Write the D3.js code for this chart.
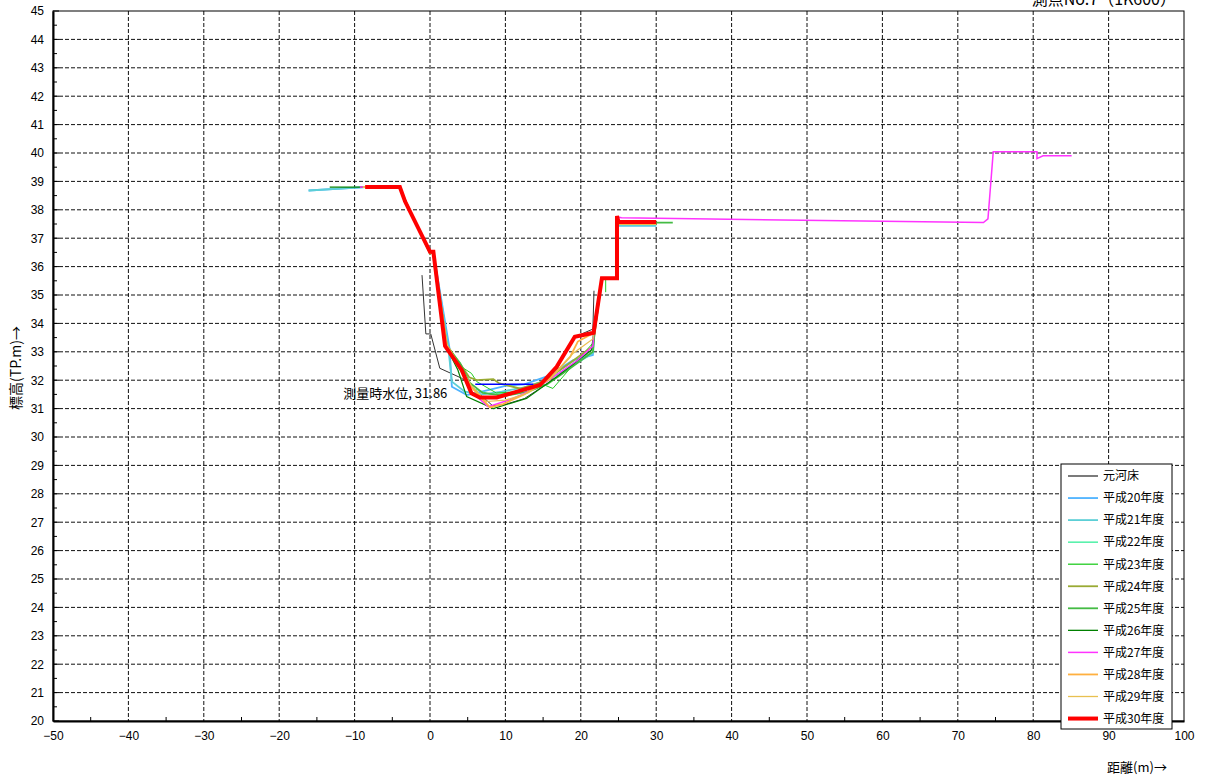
<!DOCTYPE html>
<html>
<head>
<meta charset="utf-8">
<script src="https://cdn.jsdelivr.net/npm/d3@7"></script>
<style>
  html, body { margin: 0; padding: 0; background: #fff; }
  svg { display: block; font-family: "Liberation Sans", "Noto Sans CJK JP", sans-serif; }
</style>
</head>
<body>
<svg id="chart" width="1206" height="778"></svg>
<script>
// ---------- data ----------
const title = "測点No.7（1K600）";
const xTicks = [-50, -40, -30, -20, -10, 0, 10, 20, 30, 40, 50, 60, 70, 80, 90, 100];
const yTicks = [20,21,22,23,24,25,26,27,28,29,30,31,32,33,34,35,36,37,38,39,40,41,42,43,44,45];
const seriesNames = ["元河床","平成20年度","平成21年度","平成22年度","平成23年度","平成24年度","平成25年度","平成26年度","平成27年度","平成28年度","平成29年度","平成30年度"];

const genkasho = [[-1.06,35.7],[-0.55,33.63],[0.1,33.63],[1.3,32.42],[4.2,32.07],[5.2,31.85],[8.3,31.1],[10,31.15],[12.5,31.35],[16,31.95],[19.0,33.5],[21.6,33.8],[21.75,35.15]];
const h20 = [[-16.1,38.68],[-8.6,38.8],[-4.0,38.8],[-3.3,38.3],[0,36.5],[0.45,36.5],[2.6,33.1],[2.9,31.77],[4.9,31.48],[7.7,31.65],[10,31.8],[12.5,31.85],[15.7,32.15],[19.0,32.71],[21.6,32.89],[21.7,33.6],[22.8,35.59],[24.8,35.59],[24.8,37.44],[30,37.44]];
const h21 = [[-16.1,38.68],[-8.6,38.8],[-4.0,38.8],[-3.3,38.3],[0,36.5],[0.45,36.5],[2.4,33.2],[2.9,31.95],[4.6,31.6],[7.0,31.5],[9.5,31.6],[12.5,31.75],[15.5,32.0],[18.5,32.45],[21.6,32.95],[21.7,33.6],[22.8,35.59],[24.8,35.59],[24.8,37.44],[30,37.44]];
const h22 = [[-8.9,38.8],[-4.0,38.8],[-3.3,38.3],[0,36.5],[0.45,36.5],[2.2,33.2],[4.3,32.2],[5.8,31.7],[8,31.5],[11,31.55],[14,31.85],[17,32.3],[19.5,32.75],[21.7,33.0],[21.8,33.6],[22.8,35.59],[24.8,35.59],[24.8,37.5],[30,37.5]];
const h23 = [[-8.9,38.8],[-4.0,38.8],[-3.3,38.3],[0,36.5],[0.45,36.5],[2.3,33.2],[4.0,32.5],[5.5,32.24],[6.2,31.95],[8.8,31.55],[12,31.6],[14.5,31.9],[16.3,31.71],[19.5,32.7],[21.6,33.3],[22.7,35.55],[23.3,35.55],[23.3,35.1]];
const h24 = [[-8.9,38.8],[-4.0,38.8],[-3.2,38.3],[0,36.45],[0.45,36.5],[2.2,33.25],[4.2,32.5],[5.2,32.1],[6.2,32.0],[8.4,32.04],[9.1,31.9],[12,31.7],[15,31.95],[18,32.5],[21.6,33.2],[21.8,33.6],[22.8,35.59],[24.8,35.59],[24.8,37.5],[30,37.5]];
const h25 = [[-8.9,38.8],[-4.0,38.8],[-3.3,38.3],[0,36.5],[0.45,36.5],[2.2,33.2],[4.0,32.6],[5.3,31.9],[7,31.55],[10,31.45],[13,31.6],[15.5,31.85],[18.5,32.4],[21.6,33.0],[21.8,33.6],[22.8,35.59],[24.8,35.59],[24.8,37.55],[32.2,37.55]];
const h26 = [[-13.3,38.8],[-8.6,38.8],[-4.0,38.8],[-3.3,38.3],[0,36.5],[0.45,36.5],[2.1,33.2],[3.7,32.36],[4.86,31.42],[8.4,31.0],[12.8,31.36],[16.8,32.12],[21.4,33.06],[21.7,33.6],[22.8,35.59],[24.8,35.59],[24.8,37.5],[30,37.5]];
const h27 = [[-9.3,38.8],[-4.0,38.8],[-3.3,38.3],[0,36.5],[0.45,36.5],[2.1,33.2],[4.2,32.3],[5.5,31.6],[7.7,31.07],[10.5,31.3],[13,31.6],[15.5,31.95],[19.6,32.71],[21.6,33.2],[21.7,33.6],[22.8,35.59],[24.8,35.59],[24.8,37.75],[25.4,37.72],[73.4,37.55],[74.0,37.68],[74.7,40.04],[80.5,40.04],[80.5,39.8],[81.3,39.9],[85.1,39.9]];
const h28 = [[-8.9,38.8],[-4.0,38.8],[-3.3,38.3],[0,36.5],[0.45,36.5],[2.2,33.25],[3.9,32.5],[5.0,31.9],[7.96,31.04],[9.7,31.16],[12.5,31.5],[15.9,32.06],[18.6,32.83],[19.6,33.36],[21.6,33.65],[22.8,35.59],[24.8,35.59],[24.8,37.5],[30,37.5]];
const h29 = [[-8.9,38.8],[-4.0,38.8],[-3.3,38.3],[0,36.5],[0.45,36.5],[2.3,33.2],[4.2,32.4],[5.5,31.8],[7.5,31.25],[10,31.3],[13,31.55],[16,32.05],[19,32.95],[21.6,33.45],[21.7,33.6],[22.8,35.59],[24.8,35.59],[24.8,37.5],[30,37.5]];
const h30 = [[-8.6,38.8],[-4.0,38.8],[-3.3,38.29],[0,36.52],[0.45,36.52],[2.0,33.2],[4.2,32.36],[5.5,31.54],[6.6,31.39],[8.85,31.39],[14.6,31.83],[16.8,32.47],[19.2,33.53],[21.7,33.67],[22.8,35.59],[24.8,35.59],[24.8,37.78],[25.0,37.57],[30,37.57]];

const waterLevel = 31.86;
const waterLevelRange = [6.0, 13.7];
const waterLabel = "測量時水位, 31.86";

const allSeries = [genkasho, h20, h21, h22, h23, h24, h25, h26, h27, h28, h29, h30];

// ---------- styles ----------
const colors = ["#333333","#4db3ff","#5ccfd6","#33ee99","#22cc22","#99aa33","#44bb44","#008000","#ff33ff","#ffb040","#e8c050","#ff0000"];
const widths = [1, 1.8, 1.8, 1, 1, 1.8, 1.8, 1.2, 1.5, 1.8, 1.2, 4];

// ---------- layout ----------
const svg = d3.select("#chart");
const L = 53, R = 1184, T = 11, B = 721;
const x = d3.scaleLinear().domain([-50, 100]).range([L, R]);
const y = d3.scaleLinear().domain([20, 45]).range([B, T]);

// grid
const grid = svg.append("g");
grid.selectAll("line.gx").data(xTicks.filter(d => d > -50 && d < 100)).join("line")
  .attr("x1", d => x(d)).attr("x2", d => x(d)).attr("y1", T).attr("y2", B)
  .attr("stroke", "#111").attr("stroke-width", 1).attr("stroke-dasharray", "4,2");
grid.selectAll("line.gy").data(yTicks.filter(d => d > 20 && d < 45)).join("line")
  .attr("x1", L).attr("x2", R).attr("y1", d => y(d)).attr("y2", d => y(d))
  .attr("stroke", "#111").attr("stroke-width", 1).attr("stroke-dasharray", "4,2");

// frame
svg.append("rect").attr("x", L).attr("y", T).attr("width", R - L).attr("height", B - T)
  .attr("fill", "none").attr("stroke", "#000").attr("stroke-width", 1);

// axes
const xAxis = d3.axisBottom(x).tickValues(xTicks).tickSize(0).tickPadding(10).tickFormat(d => d < 0 ? "−" + Math.abs(d) : d);
const gx = svg.append("g").attr("transform", `translate(0,${B})`).call(xAxis);
gx.select(".domain").attr("stroke", "#000").attr("stroke-width", 2);
gx.selectAll("text").attr("font-size", 12).attr("fill", "#000");

const yAxis = d3.axisLeft(y).tickValues(yTicks).tickSize(0).tickPadding(9);
const gy = svg.append("g").attr("transform", `translate(${L},0)`).call(yAxis);
gy.select(".domain").attr("stroke", "#000").attr("stroke-width", 2);
gy.selectAll("text").attr("font-size", 12).attr("fill", "#000");

// minor inward ticks
const xMinor = d3.range(-45, 100, 10);
svg.append("g").selectAll("line").data(xMinor).join("line")
  .attr("x1", d => x(d)).attr("x2", d => x(d)).attr("y1", B).attr("y2", B - 4)
  .attr("stroke", "#000").attr("stroke-width", 1);
const yMinor = d3.range(20.5, 45, 1);
svg.append("g").selectAll("line").data(yMinor).join("line")
  .attr("x1", L).attr("x2", L + 4).attr("y1", d => y(d)).attr("y2", d => y(d))
  .attr("stroke", "#000").attr("stroke-width", 1);
svg.append("g").selectAll("line").data(yTicks).join("line")
  .attr("x1", L).attr("x2", L + 6).attr("y1", d => y(d)).attr("y2", d => y(d))
  .attr("stroke", "#000").attr("stroke-width", 1);

// series
const line = d3.line().x(d => x(d[0])).y(d => y(d[1]));
const gs = svg.append("g");
allSeries.forEach((s, i) => {
  gs.append("path").attr("d", line(s)).attr("fill", "none")
    .attr("stroke", colors[i]).attr("stroke-width", widths[i])
    .attr("stroke-linejoin", "miter");
});

// water level
svg.append("line")
  .attr("x1", x(waterLevelRange[0])).attr("x2", x(waterLevelRange[1]))
  .attr("y1", y(waterLevel)).attr("y2", y(waterLevel))
  .attr("stroke", "#0000ff").attr("stroke-width", 1.5);
svg.append("text").attr("x", x(2.3)).attr("y", y(waterLevel) + 14)
  .attr("text-anchor", "end").attr("font-size", 13)
  .attr("font-family", "'Noto Sans CJK JP', sans-serif").text(waterLabel);

// axis titles
svg.append("text").attr("x", 1137).attr("y", 772).attr("text-anchor", "middle")
  .attr("font-size", 13).attr("font-family", "'Noto Sans CJK JP', sans-serif").text("距離(m)→");
svg.append("text").attr("transform", "translate(21,368) rotate(-90)").attr("text-anchor", "middle")
  .attr("font-size", 14).attr("font-family", "'Noto Sans CJK JP', sans-serif").text("標高(TP.m)→");

// title (cut at top, as in the reference)
svg.append("text").attr("x", 1176).attr("y", 5).attr("text-anchor", "end")
  .attr("font-size", 16).attr("font-family", "'Noto Sans CJK JP', sans-serif").text(title);

// legend
const lg = svg.append("g");
lg.append("rect").attr("x", 1061).attr("y", 464).attr("width", 111).attr("height", 265)
  .attr("fill", "#fff").attr("stroke", "#000").attr("stroke-width", 1);
seriesNames.forEach((n, i) => {
  const yy = 476 + i * 22.05;
  lg.append("line").attr("x1", 1068).attr("x2", 1098).attr("y1", yy).attr("y2", yy)
    .attr("stroke", colors[i]).attr("stroke-width", i === 11 ? 4 : Math.max(widths[i], 1.3));
  lg.append("text").attr("x", 1103).attr("y", yy).attr("dy", "0.36em")
    .attr("font-size", 12).attr("font-family", "'Noto Sans CJK JP', sans-serif").text(n);
});
</script>
</body>
</html>
